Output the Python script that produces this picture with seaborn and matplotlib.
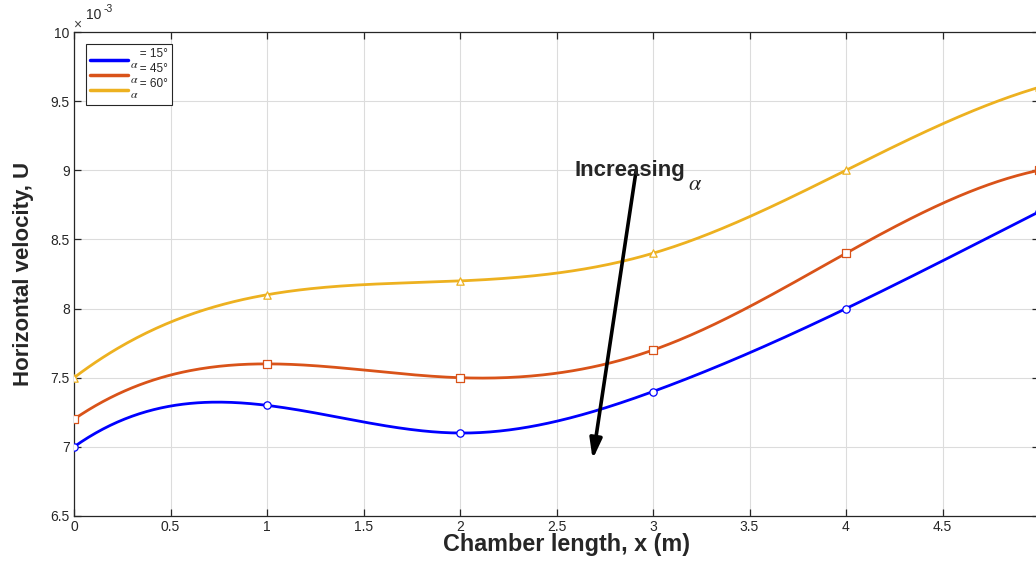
import numpy as np
import pandas as pd
import matplotlib
matplotlib.use("Agg")
import matplotlib.pyplot as plt
import seaborn as sns
from matplotlib.ticker import FuncFormatter, MultipleLocator

# ---- data ----
x_nodes = [0, 1, 2, 3, 4, 5]
u_15 = [7.0e-3, 7.3e-3, 7.1e-3, 7.4e-3, 8.0e-3, 8.7e-3]
u_45 = [7.2e-3, 7.6e-3, 7.5e-3, 7.7e-3, 8.4e-3, 9.0e-3]
u_60 = [7.5e-3, 8.1e-3, 8.2e-3, 8.4e-3, 9.0e-3, 9.6e-3]
series_labels = ["   = 15°\n$\\alpha$", "   = 45°\n$\\alpha$", "   = 60°\n$\\alpha$"]
colors = ["#0000FF", "#D95319", "#EDB120"]
markers = ["o", "s", "^"]


def notaknot_spline(x, y, xs):
    x = np.asarray(x, float); y = np.asarray(y, float)
    n = len(x); m = n - 1
    A = np.zeros((4 * m, 4 * m)); b = np.zeros(4 * m)
    r = 0
    h = np.diff(x)
    for i in range(m):
        A[r, 4 * i] = 1; b[r] = y[i]; r += 1
        A[r, 4 * i:4 * i + 4] = [1, h[i], h[i] ** 2, h[i] ** 3]; b[r] = y[i + 1]; r += 1
    for i in range(m - 1):
        A[r, 4 * i:4 * i + 4] = [0, 1, 2 * h[i], 3 * h[i] ** 2]; A[r, 4 * (i + 1) + 1] = -1; r += 1
        A[r, 4 * i:4 * i + 4] = [0, 0, 2, 6 * h[i]]; A[r, 4 * (i + 1) + 2] = -2; r += 1
    A[r, 3] = 1; A[r, 7] = -1; r += 1
    A[r, 4 * (m - 1) + 3] = 1; A[r, 4 * (m - 2) + 3] = -1; r += 1
    c = np.linalg.solve(A, b).reshape(m, 4)
    idx = np.clip(np.searchsorted(x, xs, side="right") - 1, 0, m - 1)
    t = xs - x[idx]
    cc = c[idx]
    return cc[:, 0] + cc[:, 1] * t + cc[:, 2] * t ** 2 + cc[:, 3] * t ** 3


sns.set_theme(style="whitegrid")
plt.rcParams["font.family"] = ["Liberation Sans", "DejaVu Sans"]

fig = plt.figure(figsize=(10.36, 5.61), dpi=100)
ax = fig.add_axes([74 / 1036, 1 - 516 / 561, 965 / 1036, (516 - 32) / 561])
ax.set_facecolor("white")

xs = np.linspace(0, 5, 400)
for vals, lab, col, mk in zip([u_15, u_45, u_60], series_labels, colors, markers):
    smooth = pd.DataFrame({"x": xs, "u": notaknot_spline(x_nodes, vals, xs)})
    sns.lineplot(data=smooth, x="x", y="u", color=col, linewidth=2.0, label=lab, ax=ax)
    pts = pd.DataFrame({"x": x_nodes, "u": vals})
    sns.scatterplot(data=pts, x="x", y="u", marker=mk, s=28, facecolor="white",
                    edgecolor=col, linewidth=0.9, ax=ax, zorder=5, legend=False)

ax.set_xlim(0, 5)
ax.set_ylim(6.5e-3, 10e-3)
ax.xaxis.set_major_locator(MultipleLocator(0.5))
ax.yaxis.set_major_locator(MultipleLocator(0.5e-3))
ax.xaxis.set_major_formatter(FuncFormatter(lambda v, p: f"{v:g}" if v < 4.99 else ""))
ax.yaxis.set_major_formatter(FuncFormatter(lambda v, p: f"{v * 1e3:g}"))
ax.grid(True, color="#DCDCDC", linewidth=0.8)
for s in ["left", "bottom", "top", "right"]:
    ax.spines[s].set_visible(True)
    ax.spines[s].set_color("#262626")
    ax.spines[s].set_linewidth(0.9)
ax.tick_params(axis="both", direction="in", length=5, width=0.9, colors="#262626",
               labelsize=10, pad=3, top=True, right=True, left=True, bottom=True,
               labelcolor="#262626")

ax.set_xlabel("Chamber length, x (m)", fontsize=16.8, fontweight="bold", labelpad=1)
ax.xaxis.set_label_coords(0.51, -0.035)
ax.set_ylabel("Horizontal velocity, U", fontsize=16, fontweight="bold", labelpad=12)
ax.text(-0.001, 1.0, "×", transform=ax.transAxes, fontsize=10,
        color="#404040", ha="left", va="bottom")
ax.text(0.0125, 1.02, "10", transform=ax.transAxes, fontsize=10,
        color="#262626", ha="left", va="bottom")
ax.text(0.0305, 1.037, "-3", transform=ax.transAxes, fontsize=7.5,
        color="#262626", ha="left", va="bottom")

ax.annotate("", xy=(2.685, 6.89e-3), xytext=(2.915, 9.02e-3),
            arrowprops=dict(arrowstyle="-|>,head_length=1.0,head_width=0.3",
                            color="black", lw=2.6))
ax.text(2.595, 9.0e-3, "Increasing", fontsize=16, fontweight="bold", ha="left", va="center")
ax.text(3.18, 8.9e-3, r"$\alpha$", fontsize=16, math_fontfamily="stix", ha="left", va="center")

leg = ax.legend(loc="upper left", bbox_to_anchor=(0.0124, 0.975),
                frameon=True, fancybox=False, edgecolor="#262626", framealpha=1,
                handlelength=3.2, handletextpad=0.2, labelspacing=-0.62,
                borderpad=0.35, borderaxespad=0, prop={"size": 8.5})
leg.get_frame().set_linewidth(0.8)
for line in leg.get_lines():
    line.set_linewidth(2.5)
for t in leg.get_texts():
    t.set_math_fontfamily("stix")
    t.set_linespacing(0.82)

fig.savefig("out.png", dpi=100)
